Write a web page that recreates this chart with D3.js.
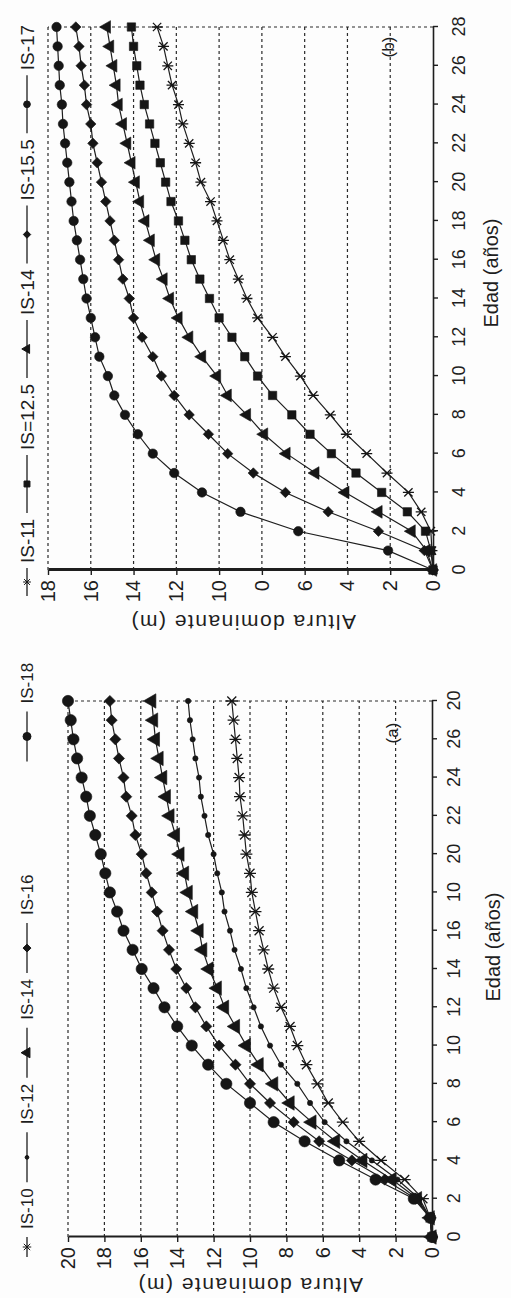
<!DOCTYPE html>
<html>
<head>
<meta charset="utf-8">
<script src="https://cdn.jsdelivr.net/npm/d3@7"></script>
<style>
body{margin:0;background:#fdfdfd}
svg{display:block}
text{font-family:"Liberation Sans",Arial,sans-serif;fill:#1e1e1e}
</style>
</head>
<body>
<div class="alturas"></div>
<script>
var ages = [0,1,2,3,4,5,6,7,8,9,10,11,12,13,14,15,16,17,18,19,20,21,22,23,24,25,26,27,28]
var edadTicks = [0,2,4,6,8,10,12,14,16,18,20,22,24,26,28]
var edadLabelsA = ["0","2","4","6","8","10","12","14","16","10","20","22","24","26","20"]
var edadLabelsB = ["0","2","4","6","8","10","12","14","16","18","20","22","24","26","28"]
var alturaTicksA = [0,2,4,6,8,10,12,14,16,18,20]
var alturaLabelsA = ["0","2","4","6","8","10","12","14","16","18","20"]
var alturaTicksB = [0,2,4,6,8,10,12,14,16,18]
var alturaLabelsB = ["0","2","4","6","0","10","12","14","16","18"]

// (a)
var namesA = ["IS-10","IS-12","IS-14","IS-16","IS-18"]
var is10 = [0,0.1,0.5,1.5,2.8,4.0,4.9,5.7,6.3,6.9,7.4,7.8,8.3,8.7,9.0,9.25,9.5,9.7,9.9,10.0,10.2,10.3,10.4,10.55,10.6,10.7,10.8,10.9,11.0]
var is12 = [0,0.1,0.7,1.9,3.3,4.7,5.9,6.7,7.4,8.3,8.9,9.4,9.8,10.2,10.5,10.85,11.1,11.4,11.55,11.8,12.0,12.3,12.5,12.7,12.8,13.0,13.15,13.3,13.4]
var is14a = [0,0.1,0.8,2.2,3.8,5.3,6.6,7.8,8.7,9.5,10.2,10.8,11.4,11.8,12.25,12.6,12.8,13.1,13.4,13.6,13.85,14.1,14.4,14.6,14.8,15.0,15.2,15.3,15.4]
var is16 = [0,0.1,0.9,2.6,4.4,6.2,7.6,8.9,10.0,10.8,11.7,12.4,13.0,13.5,14.05,14.45,14.8,15.1,15.4,15.7,15.95,16.3,16.5,16.8,16.95,17.2,17.4,17.6,17.7]
var is18 = [0,0.1,1.0,3.1,5.1,7.0,8.7,10.0,11.3,12.3,13.2,14.0,14.7,15.3,15.95,16.45,16.95,17.3,17.7,17.95,18.2,18.5,18.8,19.0,19.25,19.5,19.7,19.85,20.0]

// (b)
var namesB = ["IS-11","IS=12.5","IS-14","IS-15.5","IS-17"]
var is11 = [0,0.05,0.1,0.55,1.15,2.15,3.1,4.05,4.8,5.6,6.2,6.9,7.5,8.2,8.7,9.1,9.5,9.8,10.1,10.4,10.85,11.1,11.4,11.7,11.9,12.2,12.4,12.6,12.9]
var is125 = [0,0.1,0.35,1.2,2.4,3.6,4.75,5.75,6.6,7.5,8.2,8.8,9.4,10.0,10.45,10.9,11.3,11.6,11.9,12.25,12.5,12.75,13.0,13.25,13.5,13.7,13.85,14.0,14.1]
var is14b = [0,0.3,1.0,2.55,4.1,5.5,6.85,7.9,8.7,9.6,10.1,10.8,11.4,11.9,12.3,12.6,12.95,13.2,13.45,13.7,13.9,14.1,14.3,14.5,14.7,14.8,14.95,15.1,15.25]
var is155 = [0,0.4,2.55,4.9,6.9,8.4,9.6,10.5,11.4,12.1,12.7,13.1,13.6,14.0,14.2,14.5,14.7,14.9,15.1,15.3,15.5,15.7,15.9,16.0,16.2,16.3,16.45,16.55,16.7]
var is17 = [0,2.1,6.3,9.0,10.8,12.1,13.1,13.8,14.4,14.9,15.2,15.6,15.8,16.0,16.2,16.35,16.5,16.65,16.8,16.9,17.0,17.1,17.2,17.3,17.35,17.45,17.5,17.55,17.6]

var width = 511, height = 1298
var svg = d3.select(".alturas").append("svg").attr("width",width).attr("height",height)
svg.append("rect").attr("width",width).attr("height",height).attr("fill","#fdfdfd")

// excel style star: x plus a bar
var asterisk = {draw:function(ctx,size){
	var r = Math.sqrt(size)*0.6, d = r*0.75
	ctx.moveTo(0,-r); ctx.lineTo(0,r)
	ctx.moveTo(-d,-d); ctx.lineTo(d,d)
	ctx.moveTo(-d,d); ctx.lineTo(d,-d)
}}
var diamond = d3.symbolDiamond2 || d3.symbolDiamond

function panel(o){
	// the whole figure is turned a quarter left, like the scan
	var g = svg.append("g").attr("transform","translate(0,"+o.base+") rotate(-90)")
	var x = d3.scaleLinear().domain([0,28]).range([0,o.len])
	var y = d3.scaleLinear().domain([0,o.yMax]).range([o.y0,o.y1])

	var grid = g.append("g").attr("class","grid").attr("stroke","#2a2a2a").attr("stroke-width",1.2).attr("stroke-dasharray","3,3")
	grid.selectAll("line").data(o.yTicks.slice(1)).enter().append("line")
	.attr("x1",x(0)).attr("x2",x(28))
	.attr("y1",function(d){return y(d)}).attr("y2",function(d){return y(d)})
	grid.append("line").attr("x1",x(28)).attr("x2",x(28)).attr("y1",y(0)).attr("y2",y(o.yMax))

	var xAxis = g.append("g").attr("transform","translate(0,"+y(0)+")")
	.call(d3.axisBottom(x).tickValues(edadTicks).tickSize(5).tickSizeOuter(0).tickPadding(o.xPad)
		.tickFormat(function(d,i){return o.xLabels[i]}))
	xAxis.attr("font-family",null).attr("font-size",null)
	xAxis.select(".domain").attr("stroke","#1e1e1e").attr("stroke-width",1.6)
	xAxis.selectAll(".tick line").attr("stroke","#1e1e1e").attr("stroke-width",1.4)
	xAxis.selectAll("text").style("font-size","18px")

	var yAxis = g.append("g")
	.call(d3.axisLeft(y).tickValues(o.yTicks).tickSize(5).tickSizeOuter(0).tickPadding(5)
		.tickFormat(function(d,i){return o.yLabels[i]}))
	yAxis.attr("font-family",null).attr("font-size",null)
	yAxis.select(".domain").attr("stroke","#1e1e1e").attr("stroke-width",o.axisW)
	yAxis.selectAll(".tick line").attr("stroke","#1e1e1e").attr("stroke-width",1.4)
	yAxis.selectAll("text").style("font-size","20px")

	g.append("text").attr("transform","translate("+o.yTitle[0]+","+o.yTitle[1]+") rotate(-90)")
	.attr("text-anchor","middle").attr("dy","0.35em").style("font-size","21px").style("letter-spacing","1.5px")
	.text("Altura dominante (m)")
	g.append("text").attr("x",o.xTitle[0]).attr("y",o.xTitle[1]).attr("text-anchor","middle").attr("dy","0.35em")
	.style("font-size","20px").text("Edad (años)")
	g.append("text").attr("x",o.tag[0]).attr("y",o.tag[1]).attr("text-anchor","middle").attr("dy","0.35em")
	.style("font-size","17px").text(o.tagText)

	var line = d3.line().x(function(d,i){return x(ages[i])}).y(function(d){return y(d)})
	o.values.forEach(function(vals,k){
		var m = o.marks[k]
		var s = g.append("g").attr("class","serie")
		s.append("path").attr("d",line(vals)).attr("fill","none").attr("stroke","#1e1e1e").attr("stroke-width",1.2)
		s.selectAll("path.mk").data(vals).enter().append("path").attr("class","mk")
		.attr("transform",function(d,i){return "translate("+x(ages[i])+","+y(d)+")"})
		.attr("d",d3.symbol().type(m.type).size(m.size))
		.attr("fill",m.stroke ? "none" : "#161616")
		.attr("stroke","#161616").attr("stroke-width",m.stroke ? 1.3 : 0.6)
	})

	// legend along the top of the (unrotated) chart
	var lg = g.append("g").attr("class","legend")
	var pos = o.legend.start
	o.names.forEach(function(name,i){
		var len = i==0 ? o.legend.first : o.legend.line
		if(i==o.names.length-1){pos += o.legend.lastGap}
		lg.append("line").attr("x1",pos).attr("x2",pos+len).attr("y1",o.legend.y).attr("y2",o.legend.y)
		.attr("stroke","#1e1e1e").attr("stroke-width",1.3)
		var m = o.marks[i]
		lg.append("path").attr("transform","translate("+(pos+len/2)+","+o.legend.y+")")
		.attr("d",d3.symbol().type(m.type).size(m.size*0.5))
		.attr("fill",m.stroke ? "none" : "#161616").attr("stroke","#161616").attr("stroke-width",1)
		pos += len + o.legend.gapA
		var t = lg.append("text").attr("x",pos).attr("y",o.legend.y).attr("dy","0.35em")
		.style("font-size",o.legend.font+"px").text(name)
		pos += t.node().getComputedTextLength() + o.legend.gapB
	})
}

panel({
	base:570, len:543, yMax:18, y0:433, y1:48,
	yTicks:alturaTicksB, yLabels:alturaLabelsB, xLabels:edadLabelsB,
	xPad:14, axisW:3,
	yTitle:[-52,243], xTitle:[297,491], tag:[523,388], tagText:"(b)",
	names:namesB, values:[is11,is125,is14b,is155,is17],
	marks:[{type:asterisk,size:85,stroke:true},{type:d3.symbolSquare,size:70},{type:d3.symbolTriangle,size:70},{type:diamond,size:70},{type:d3.symbolCircle,size:70}],
	legend:{start:-26, first:28, line:58, lastGap:0, gapA:5, gapB:6, y:27, font:19}
})

panel({
	base:1237, len:536, yMax:20, y0:432, y1:68,
	yTicks:alturaTicksA, yLabels:alturaLabelsA, xLabels:edadLabelsA,
	xPad:10, axisW:2,
	yTitle:[-48,250], xTitle:[290,493], tag:[504,392], tagText:"(a)",
	names:namesA, values:[is10,is12,is14a,is16,is18],
	marks:[{type:asterisk,size:100,stroke:true},{type:d3.symbolCircle,size:22},{type:d3.symbolTriangle,size:90},{type:diamond,size:80},{type:d3.symbolCircle,size:100}],
	legend:{start:-20, first:20, line:50, lastGap:107, gapA:8, gapB:6, y:27, font:17}
})
</script>
</body>
</html>
